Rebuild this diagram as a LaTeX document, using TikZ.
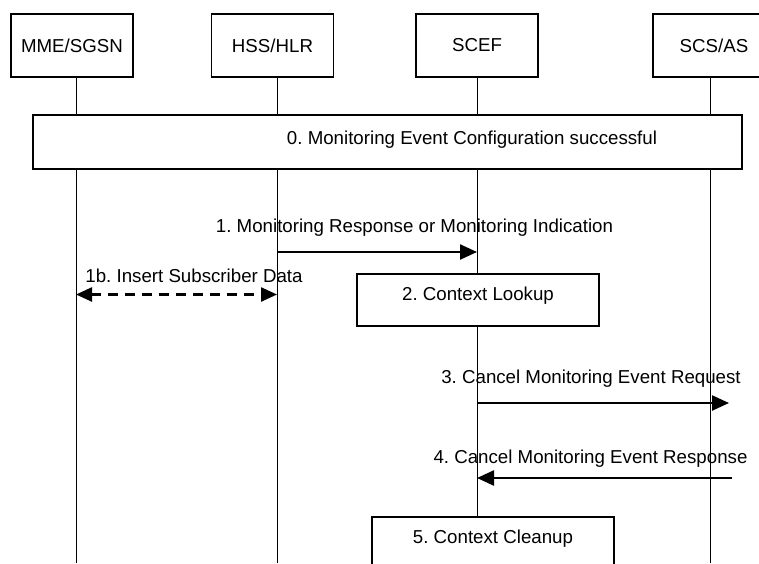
\documentclass[tikz,border=0pt]{standalone}
\usepackage{fontspec}
\setmainfont{Liberation Sans}
\usetikzlibrary{arrows.meta,positioning}
\frenchspacing

\tikzset{
  entity/.style={draw,line width=1.2pt,minimum width=122pt,minimum height=63pt,inner sep=0pt},
  procbox/.style={draw,fill=white,line width=1.6pt,minimum width=242pt,inner sep=0pt,text height=26.6pt,text depth=25.4pt},
  life/.style={line width=0.9pt},
  msg/.style={line width=2.4pt,-{Triangle[length=17pt,width=15pt]}},
  lbl/.style={anchor=base,inner sep=0pt},
}

\begin{document}
\begin{tikzpicture}[x=1pt,y=-1pt,font=\fontsize{18.7}{22}\selectfont]
  \clip (0,0) rectangle (759,563);

  % entities
  \node [entity] (mme) at (72,45.5) {MME/SGSN};
  \node [entity] (hss) at (272.5,45.5) {HSS/HLR};
  \node [entity] (scef) at (477,45.5) {SCEF};
  \node [entity] (scs) at (714,45.5) {SCS/AS};

  % lifelines
  \coordinate (lmme) at (76,77);
  \coordinate (lhss) at (277,77);
  \coordinate (lscef) at (477,77);
  \coordinate (lscs) at (710,77);
  \coordinate (bottom) at (0,563);
  \foreach \l in {lmme,lhss,lscef,lscs}
    \draw [life] (\l) -- (\l |- bottom);

  % 0.
  \node [draw,fill=white,line width=2pt,minimum width=709pt,minimum height=54pt,inner sep=0pt] (step0) at (387.5,142) {};
  \node [lbl] (step0txt) at (472,144.7) {0. Monitoring Event Configuration successful};

  % message rows
  \coordinate (m1) at (0,252);
  \coordinate (m1b) at (0,294.5);
  \coordinate (m3) at (0,403);
  \coordinate (m3end) at (729,403);
  \coordinate (m4) at (0,478);
  \coordinate (m4start) at (732,478);

  \draw [msg] (lhss |- m1) -- node [lbl,xshift=37.5pt,yshift=20pt] {1. Monitoring Response or Monitoring Indication} (lscef |- m1);
  \draw [msg,dash pattern=on 10pt off 7pt,{Triangle[length=16pt,width=14pt]}-{Triangle[length=16pt,width=14pt]}] (lmme |- m1b) -- node [lbl,xshift=17.5pt,yshift=11.6pt] {1b. Insert Subscriber Data} (lhss |- m1b);

  \node [procbox] (step2) at (478,300) {2. Context Lookup};

  \draw [msg] (lscef |- m3) -- node [lbl,xshift=-12pt,yshift=19.4pt] {3. Cancel Monitoring Event Request} (m3end);
  \draw [msg] (m4start) -- node [lbl,xshift=-14pt,yshift=14.4pt] {4. Cancel Monitoring Event Response} (lscef |- m4);

  \node [procbox] (step5) at (493,543) {5. Context Cleanup};
\end{tikzpicture}
\end{document}
